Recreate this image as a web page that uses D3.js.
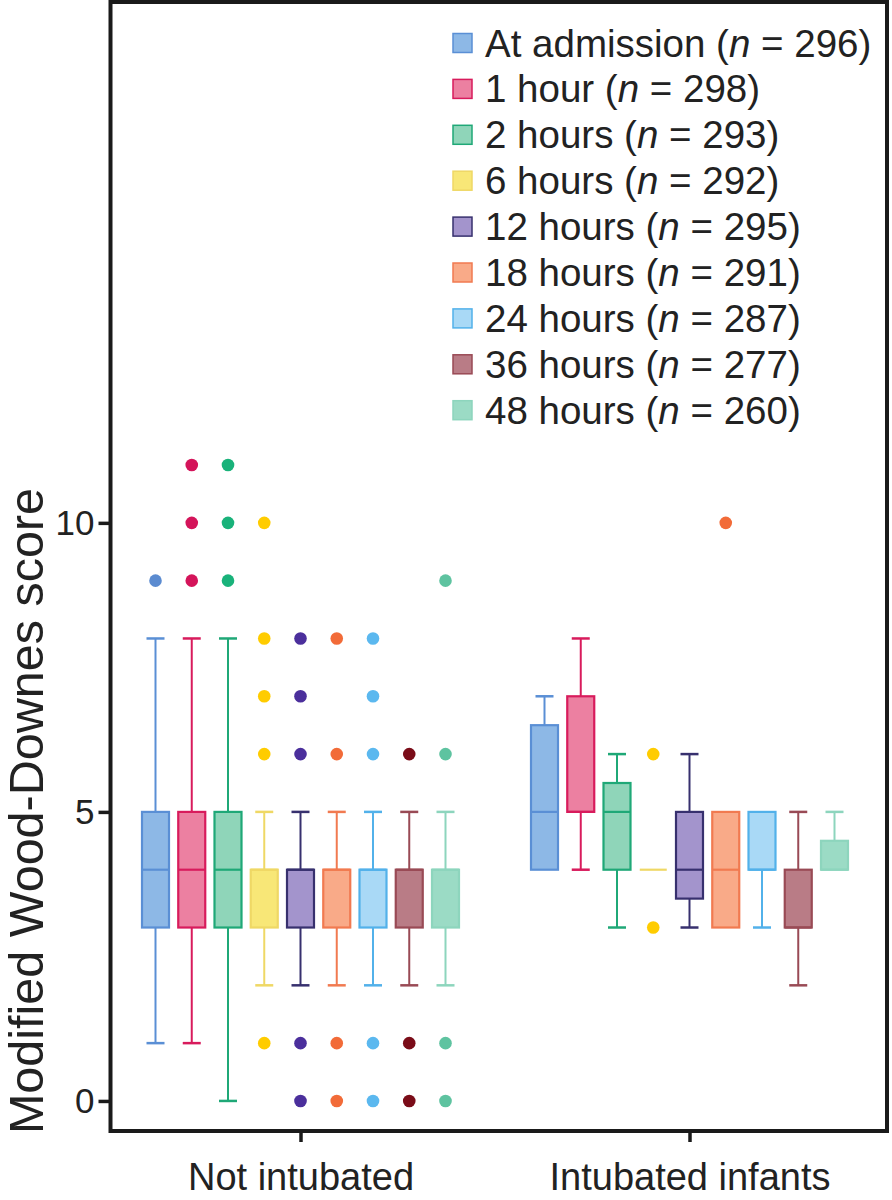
<!DOCTYPE html>
<html>
<head>
<meta charset="utf-8">
<script src="https://cdn.jsdelivr.net/npm/d3@7"></script>
<style>
  body { margin: 0; background: #fff; }
  svg text { font-family: "Liberation Sans", Arial, sans-serif; fill: #222; }
</style>
</head>
<body>
<div id="chart"></div>
<script>
// Boxplot Wood-Downes por grupo e tempo

const series = ['At admission', '1 hour', '2 hours', '6 hours', '12 hours',
                '18 hours', '24 hours', '36 hours', '48 hours'];
const nValues = [296, 298, 293, 292, 295, 291, 287, 277, 260];
const groups = ['Not intubated', 'Intubated infants'];

// Not intubated
const notIntMin = [1, 1, 0, 2, 2, 2, 2, 2, 2];
const notIntQ1 = [3, 3, 3, 3, 3, 3, 3, 3, 3];
const notIntMed = [4, 4, 4, 4, 4, 4, 4, 4, 4];
const notIntQ3 = [5, 5, 5, 4, 4, 4, 4, 4, 4];
const notIntMax = [8, 8, 8, 5, 5, 5, 5, 5, 5];
const notIntOutliers = [[9], [9, 10, 11], [9, 10, 11], [1, 6, 7, 8, 10], [0, 1, 6, 7, 8],
                        [0, 1, 6, 8], [0, 1, 6, 7, 8], [0, 1, 6], [0, 1, 6, 9]];

// Intubated infants
const intMin = [4, 4, 3, 4, 3, 3, 3, 2, 4];
const intQ1 = [4, 5, 4, 4, 3.5, 3, 4, 3, 4];
const intMed = [5, 5, 5, 4, 4, 4, 4, 3, 4];
const intQ3 = [6.5, 7, 5.5, 4, 5, 5, 5, 4, 4.5];
const intMax = [7, 8, 6, 4, 6, 5, 5, 5, 5];
const intOutliers = [[], [], [], [3, 6], [], [10], [], [], []];

const yTicks = [0, 5, 10];

// Cores
const fillColors = ['#8db8e6', '#ec80a1', '#8fd5b9', '#f8e777', '#a394cc',
                    '#f9aa88', '#a9d9f6', '#b97c86', '#9bdbc5'];
const strokeColors = ['#5a8fd5', '#d81b5c', '#1fa877', '#efd865', '#37306e',
                      '#f17a50', '#52b1ea', '#994a55', '#8dd5bd'];
const dotColors = ['#5b8bd0', '#d4145a', '#19b27a', '#ffcc00', '#4b2f9c',
                   '#f26b38', '#5bb8ef', '#7a0c18', '#5ec3a0'];

function buildRows(group, mins, q1s, meds, q3s, maxs, outs) {
  return series.map((s, i) => ({
    group, series: s, i,
    min: mins[i], q1: q1s[i], med: meds[i], q3: q3s[i], max: maxs[i], outliers: outs[i]
  }));
}

const rows = buildRows(groups[0], notIntMin, notIntQ1, notIntMed, notIntQ3, notIntMax, notIntOutliers)
  .concat(buildRows(groups[1], intMin, intQ1, intMed, intQ3, intMax, intOutliers));

const W = 892, H = 1200;
const frame = { left: 110.5, right: 887, top: 2, bottom: 1131 };

const svg = d3.select('#chart')
  .append('svg')
  .attr('width', W)
  .attr('height', H);

// Escalas
const y = d3.scaleLinear()
  .domain([-0.52, 19.01])
  .range([frame.bottom, frame.top]);

const x = d3.scalePoint()
  .domain(groups)
  .range([106, 884])
  .padding(0.5);

const xInner = d3.scalePoint()
  .domain(series)
  .range([-145, 145]);

const boxW = 27, capW = 18;

// Boxes
const box = svg.append('g').selectAll('g.box')
  .data(rows)
  .enter()
  .append('g')
  .attr('class', 'box')
  .attr('transform', d => `translate(${x(d.group) + xInner(d.series)},0)`);

// bigodes
box.filter(d => d.max > d.q3).append('line')
  .attr('y1', d => y(d.q3)).attr('y2', d => y(d.max))
  .attr('stroke', d => strokeColors[d.i]).attr('stroke-width', 2);
box.filter(d => d.max > d.q3).append('line')
  .attr('x1', -capW / 2).attr('x2', capW / 2)
  .attr('y1', d => y(d.max)).attr('y2', d => y(d.max))
  .attr('stroke', d => strokeColors[d.i]).attr('stroke-width', 2.5);
box.filter(d => d.min < d.q1).append('line')
  .attr('y1', d => y(d.q1)).attr('y2', d => y(d.min))
  .attr('stroke', d => strokeColors[d.i]).attr('stroke-width', 2);
box.filter(d => d.min < d.q1).append('line')
  .attr('x1', -capW / 2).attr('x2', capW / 2)
  .attr('y1', d => y(d.min)).attr('y2', d => y(d.min))
  .attr('stroke', d => strokeColors[d.i]).attr('stroke-width', 2.5);

box.filter(d => d.q3 > d.q1).append('rect')
  .attr('x', -boxW / 2)
  .attr('width', boxW)
  .attr('y', d => y(d.q3))
  .attr('height', d => y(d.q1) - y(d.q3))
  .attr('fill', d => fillColors[d.i])
  .attr('stroke', d => strokeColors[d.i])
  .attr('stroke-width', 2.2);

// mediana
box.append('line')
  .attr('x1', -boxW / 2).attr('x2', boxW / 2)
  .attr('y1', d => y(d.med)).attr('y2', d => y(d.med))
  .attr('stroke', d => strokeColors[d.i])
  .attr('stroke-width', 2.2);

// outliers
box.selectAll('circle')
  .data(d => d.outliers.map(v => ({ v, i: d.i })))
  .enter()
  .append('circle')
  .attr('cy', d => y(d.v))
  .attr('r', 6.3)
  .attr('fill', d => dotColors[d.i]);

// Eixos
const yAxis = svg.append('g')
  .attr('transform', `translate(${frame.left},0)`)
  .call(d3.axisLeft(y).tickValues(yTicks).tickSize(12).tickPadding(4));
yAxis.select('.domain').remove();
yAxis.selectAll('line').attr('stroke', '#1a1a1a').attr('stroke-width', 3.5);
yAxis.selectAll('text').style('font-size', '35px').attr('fill', '#222');

const xAxis = svg.append('g')
  .attr('transform', `translate(0,${frame.bottom})`)
  .call(d3.axisBottom(x).tickSize(11).tickPadding(21));
xAxis.select('.domain').remove();
xAxis.selectAll('line').attr('stroke', '#1a1a1a').attr('stroke-width', 3.5);
xAxis.selectAll('text').style('font-size', '38px').attr('fill', '#222');

// Moldura
svg.append('rect')
  .attr('x', frame.left)
  .attr('y', frame.top)
  .attr('width', frame.right - frame.left)
  .attr('height', frame.bottom - frame.top)
  .attr('fill', 'none')
  .attr('stroke', '#1a1a1a')
  .attr('stroke-width', 4);

// Label do eixo Y
svg.append('text')
  .attr('transform', 'rotate(-90)')
  .attr('x', -811)
  .attr('y', 43)
  .style('text-anchor', 'middle')
  .style('font-size', '48.5px')
  .text('Modified Wood-Downes score');

// Legenda
const legend = svg.append('g')
  .attr('transform', 'translate(453,43)')
  .selectAll('g')
  .data(series)
  .enter()
  .append('g')
  .attr('transform', (d, i) => `translate(0,${i * 45.9})`);

legend.append('rect')
  .attr('x', 0).attr('y', -9.5)
  .attr('width', 19).attr('height', 19)
  .attr('fill', (d, i) => fillColors[i])
  .attr('stroke', (d, i) => strokeColors[i])
  .attr('stroke-width', 1.5);

const lt = legend.append('text')
  .attr('x', 32)
  .attr('y', 13.5)
  .style('font-size', '38.5px');
lt.append('tspan').text(d => d + ' (');
lt.append('tspan').style('font-style', 'italic').text('n');
lt.append('tspan').text((d, i) => ' = ' + nValues[i] + ')');
</script>
</body>
</html>
